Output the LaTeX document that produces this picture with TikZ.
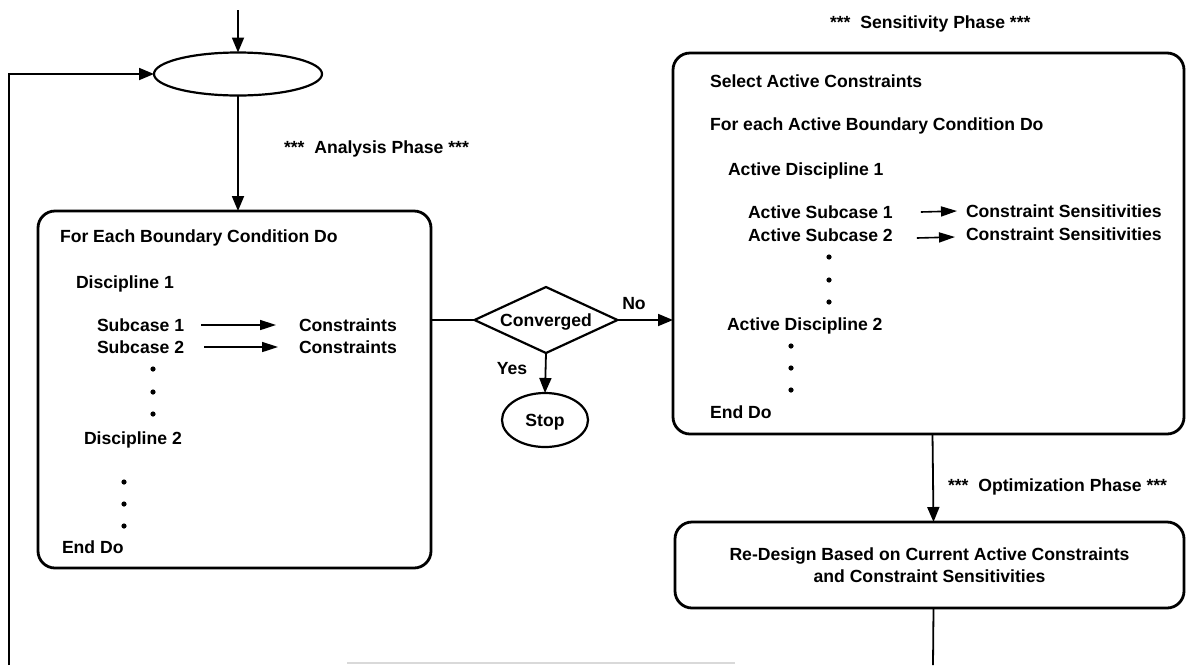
\documentclass[tikz,border=0pt]{standalone}
\usepackage{fontspec}
\setmainfont{Liberation Sans}
\usetikzlibrary{shapes.geometric,arrows.meta}
\begin{document}
\begin{tikzpicture}[x=0.5pt,y=-0.5pt,
  txt/.style={font=\bfseries\fontsize{8.8}{11}\selectfont, inner sep=0pt, outer sep=0pt, anchor=west, text height=6.3pt, text depth=0pt},
  ctxt/.style={txt, anchor=center},
  rbox/.style={draw, line width=1.4pt, rounded corners=8.5pt, inner sep=0pt, outer sep=0pt},
  shp/.style={draw, line width=1.1pt, inner sep=0pt, outer sep=0pt},
  conn/.style={line width=0.9pt},
  arr/.style={conn, -{Triangle[length=7.5pt,width=6pt]}},
  sarr/.style={line width=0.8pt, -{Triangle[length=8pt,width=5pt]}},
  dotn/.style={circle, fill, inner sep=0pt, minimum size=2.6pt},
]
\useasboundingbox (0,0) rectangle (1187,665);

% start and loop ellipse
\coordinate (start) at (238,10);
\node[shp, ellipse, minimum width=84pt, minimum height=21.5pt] (loop) at (238,74) {};
\draw[arr] (start) -- (loop.north);

% analysis box
\node[rbox, minimum width=196.5pt, minimum height=178.5pt] (box1) at (234.5,389.5) {};
\draw[arr] (loop.south) -- (loop.south |- box1.north);
\node[txt] (anph) at (284,147) {***~~Analysis Phase ***};

\node[txt] (fe) at (60,236) {For Each Boundary Condition Do};
\node[txt] (d1) at (76,282) {Discipline 1};
\node[txt] (s1) at (97,325) {Subcase 1};
\node[txt] (c1) at (299,325) {Constraints};
\node[txt] (s2) at (97,347) {Subcase 2};
\node[txt] (c2) at (299,347) {Constraints};
\draw[sarr] ([xshift=8.5pt]s1.east) -- ([xshift=-11.5pt]c1.west);
\draw[sarr] ([xshift=10pt]s2.east) -- ([xshift=-10.5pt]c2.west);
\node[dotn] (da1) at (153,369) {};
\node[dotn] (da2) at (153,392) {};
\node[dotn] (da3) at (153,414) {};
\node[txt] (d2) at (84,438) {Discipline 2};
\node[dotn] (db1) at (124,482) {};
\node[dotn] (db2) at (124,504) {};
\node[dotn] (db3) at (124,526) {};
\node[txt] (ed1) at (62,547) {End Do};

% decision
\node[shp, diamond, aspect=2.17, minimum width=71.5pt, minimum height=33pt, font=\bfseries\fontsize{8.8}{11}\selectfont, text height=6.3pt, text depth=0pt] (conv) at (546,320) {Converged};
\draw[conn] (box1.east |- conv.west) -- (conv.west);
\node[shp, ellipse, minimum width=43pt, minimum height=27pt, font=\bfseries\fontsize{8.8}{11}\selectfont, text height=6.3pt, text depth=0pt] (stop) at (545,420) {Stop};
\draw[arr] (conv.south) -- (stop.north);
\node[ctxt] (yes) at (512,368) {Yes};
\node[ctxt] (no) at (634,303) {No};

% sensitivity box
\node[rbox, minimum width=255.5pt, minimum height=190.5pt] (box2) at (928.5,243.5) {};
\draw[arr] (conv.east) -- (conv.east -| box2.west);
\node[txt] (seph) at (830,22) {***~~Sensitivity Phase ***};

\node[txt] (sac) at (710,81) {Select Active Constraints};
\node[txt] (fea) at (710,124) {For each Active Boundary Condition Do};
\node[txt] (ad1) at (728,169) {Active Discipline 1};
\node[txt] (as1) at (748,212) {Active Subcase 1};
\node[txt] (cs1) at (966,211) {Constraint Sensitivities};
\node[txt] (as2) at (748,235) {Active Subcase 2};
\node[txt] (cs2) at (966,234) {Constraint Sensitivities};
\draw[sarr] ([xshift=14pt]as1.east) -- ([xshift=-4.5pt]cs1.west);
\draw[sarr] ([xshift=12pt,yshift=-1.5pt]as2.east) -- ([xshift=-5.5pt,yshift=-1.5pt]cs2.west);
\node[dotn] (dc1) at (829,257) {};
\node[dotn] (dc2) at (829,280) {};
\node[dotn] (dc3) at (829,302) {};
\node[txt] (ad2) at (727,324) {Active Discipline 2};
\node[dotn] (dd1) at (791,346) {};
\node[dotn] (dd2) at (791,368) {};
\node[dotn] (dd3) at (791,390) {};
\node[txt] (ed2) at (710,412) {End Do};

% optimization
\node[rbox, minimum width=254.5pt, minimum height=43pt, align=center, font=\bfseries\fontsize{8.8}{11}\selectfont] (redes) at (929.5,565) {Re-Design Based on Current Active Constraints\\and Constraint Sensitivities};
\draw[arr] ([xshift=2pt]box2.south) -- ([xshift=2pt]redes.north);
\node[txt] (opph) at (948,485) {***~~Optimization Phase ***};

% feedback lines (cut at bottom)
\coordinate (rbot) at (933,665);
\coordinate (lbot) at (9,665);
\draw[conn] ([xshift=2pt]redes.south) -- (rbot);
\draw[arr] (lbot) |- (loop.west);
\coordinate (f1) at (347,663);
\coordinate (f2) at (735,663);
\draw[black!15, line width=0.8pt] (f1) -- (f2);
\end{tikzpicture}
\end{document}
